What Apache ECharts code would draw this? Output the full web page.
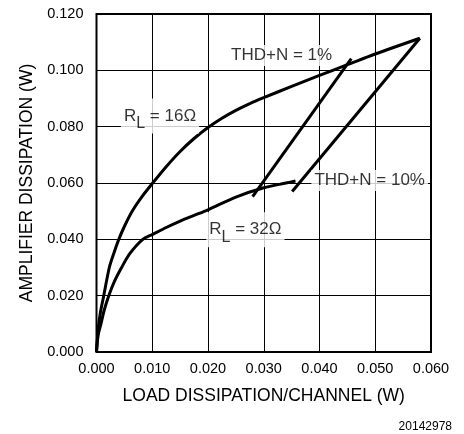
<!DOCTYPE html>
<html>
<head>
<meta charset="utf-8">
<script src="https://cdn.jsdelivr.net/npm/echarts@6/dist/echarts.min.js"></script>
<style>
  html, body { margin: 0; padding: 0; background: #fff; }
  #chart { width: 464px; height: 434px; }
</style>
</head>
<body>
<div id="chart"></div>
<script>
// load dissipation (W) vs amplifier dissipation (W)
var rl16 = [[0, 0], [0.0003, 0.008], [0.0007, 0.014], [0.0013, 0.020], [0.0023, 0.030], [0.0031, 0.035],
  [0.0040, 0.040], [0.0051, 0.045], [0.0064, 0.050], [0.0081, 0.055], [0.010, 0.0598], [0.0125, 0.0658],
  [0.015, 0.0712], [0.0175, 0.0758], [0.020, 0.0797], [0.0225, 0.0830], [0.025, 0.0858], [0.0275, 0.0882],
  [0.030, 0.0903], [0.035, 0.0943], [0.040, 0.0982], [0.045, 0.102], [0.050, 0.1058], [0.058, 0.1114]];
var rl32 = [[0, 0], [0.0003, 0.006], [0.0008, 0.010], [0.0014, 0.015], [0.0022, 0.020], [0.0032, 0.025],
  [0.0045, 0.030], [0.0060, 0.035], [0.0083, 0.040], [0.010, 0.0417], [0.0125, 0.0442], [0.015, 0.0465],
  [0.0175, 0.0485], [0.020, 0.0505], [0.025, 0.0550], [0.030, 0.0583], [0.034, 0.0600], [0.0357, 0.0607]];
var thd1 = [[0.0280, 0.0552], [0.0457, 0.1042]];
var thd10 = [[0.0351, 0.0570], [0.0580, 0.1114]];

var notePos = [[0.0332, 0.1053], [0.0114, 0.0838], [0.0267, 0.0434], [0.0490, 0.0609]];
var noteText = ['THD+N = 1%', '{t|R}{s|L}{t| = 16Ω}', '{t|R}{s|L}{t| = 32Ω}', 'THD+N = 10%'];

var font = '"Liberation Sans", Arial, Helvetica, sans-serif';
var chart = echarts.init(document.getElementById('chart'));

function curve(d) {
  return {
    type: 'line', data: d, showSymbol: false, smooth: 0.3,
    lineStyle: { color: '#000', width: 3 }, silent: true, z: 3
  };
}

var option = {
  animation: false,
  grid: { left: 96.5, right: 33, top: 14, bottom: 82, show: true, borderColor: '#000', borderWidth: 2, z: 4 },
  xAxis: {
    type: 'value', min: 0, max: 0.06, interval: 0.01,
    name: 'LOAD DISSIPATION/CHANNEL (W)', nameLocation: 'middle', nameGap: 35,
    nameTextStyle: { fontFamily: font, fontSize: 17.5, color: '#000' },
    axisLine: { show: false }, axisTick: { show: false },
    splitLine: { lineStyle: { color: '#000', width: 1 } },
    axisLabel: { fontFamily: font, fontSize: 14.5, color: '#000', margin: 9, formatter: function (v) { return v.toFixed(3); } }
  },
  yAxis: {
    type: 'value', min: 0, max: 0.12, interval: 0.02,
    name: 'AMPLIFIER DISSIPATION (W)', nameLocation: 'middle', nameGap: 57,
    nameTextStyle: { fontFamily: font, fontSize: 17.5, color: '#000' },
    axisLine: { show: false }, axisTick: { show: false },
    splitLine: { lineStyle: { color: '#000', width: 1 } },
    axisLabel: { fontFamily: font, fontSize: 14.5, color: '#000', margin: 13, formatter: function (v) { return v.toFixed(3); } }
  },
  series: [
    curve(rl16), curve(rl32), curve(thd1), curve(thd10),
    {
      type: 'scatter', symbolSize: 0, silent: true, z: 5,
      data: notePos.map(function (p, i) { return { value: p, name: noteText[i] }; }),
      label: {
        show: true, position: 'inside', formatter: '{b}',
        fontFamily: font, fontSize: 17, color: '#000',
        backgroundColor: '#fff', padding: [2, 3],
        rich: {
          t: { fontFamily: font, fontSize: 17, color: '#000' },
          s: { fontFamily: font, fontSize: 16, color: '#000', padding: [15, 0, 0, 0] }
        }
      }
    }
  ],
  graphic: [{
    type: 'text', right: 12, top: 421,
    style: { text: '20142978', font: '12px ' + font, fill: '#000' }
  }]
};
chart.setOption(option);
</script>
</body>
</html>
